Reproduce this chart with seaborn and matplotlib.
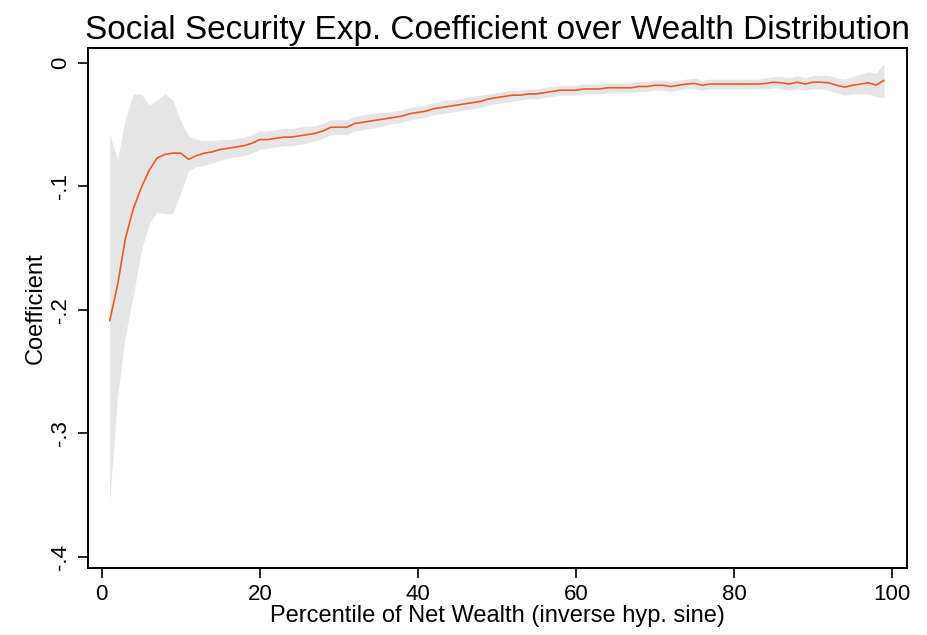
import matplotlib
matplotlib.use("Agg")
import matplotlib.pyplot as plt
import pandas as pd
import seaborn as sns

# percentile of net wealth
pct = list(range(1, 100))

coef = [
    -0.209, -0.180, -0.142, -0.118, -0.101, -0.087, -0.077, -0.074, -0.073, -0.073,
    -0.078, -0.075, -0.073, -0.072, -0.070, -0.069, -0.068, -0.067, -0.065, -0.062,
    -0.062, -0.061, -0.060, -0.060, -0.059, -0.058, -0.057, -0.055, -0.052, -0.052,
    -0.052, -0.049, -0.048, -0.047, -0.046, -0.045, -0.044, -0.043, -0.041, -0.040,
    -0.039, -0.037, -0.036, -0.035, -0.034, -0.033, -0.032, -0.031, -0.029, -0.028,
    -0.027, -0.026, -0.026, -0.025, -0.025, -0.024, -0.023, -0.022, -0.022, -0.022,
    -0.021, -0.021, -0.021, -0.020, -0.020, -0.020, -0.020, -0.019, -0.019, -0.018,
    -0.018, -0.019, -0.018, -0.017, -0.0165, -0.018, -0.017, -0.017, -0.017, -0.017,
    -0.017, -0.017, -0.017, -0.0165, -0.0155, -0.016, -0.017, -0.0155, -0.017, -0.0155,
    -0.0155, -0.016, -0.018, -0.0195, -0.018, -0.017, -0.016, -0.0178, -0.014,
]

ci_low = [
    -0.355, -0.270, -0.220, -0.188, -0.152, -0.130, -0.121, -0.122, -0.122, -0.105,
    -0.087, -0.084, -0.083, -0.081, -0.079, -0.077, -0.076, -0.075, -0.073, -0.070,
    -0.069, -0.068, -0.067, -0.067, -0.066, -0.065, -0.063, -0.061, -0.058, -0.058,
    -0.058, -0.055, -0.054, -0.053, -0.052, -0.050, -0.049, -0.048, -0.046, -0.045,
    -0.044, -0.042, -0.041, -0.040, -0.039, -0.038, -0.037, -0.036, -0.034, -0.033,
    -0.032, -0.031, -0.030, -0.029, -0.029, -0.028, -0.027, -0.026, -0.026, -0.026,
    -0.025, -0.025, -0.025, -0.024, -0.024, -0.024, -0.024, -0.023, -0.023, -0.022,
    -0.022, -0.023, -0.022, -0.021, -0.021, -0.022, -0.021, -0.021, -0.021, -0.021,
    -0.021, -0.021, -0.021, -0.021, -0.020, -0.021, -0.022, -0.021, -0.022, -0.021,
    -0.021, -0.022, -0.024, -0.026, -0.025, -0.025, -0.025, -0.027, -0.028,
]

ci_high = [
    -0.058, -0.078, -0.045, -0.025, -0.025, -0.034, -0.030, -0.025, -0.030, -0.047,
    -0.059, -0.062, -0.063, -0.063, -0.062, -0.062, -0.061, -0.060, -0.058, -0.055,
    -0.055, -0.054, -0.053, -0.053, -0.052, -0.051, -0.051, -0.049, -0.046, -0.046,
    -0.046, -0.043, -0.042, -0.041, -0.040, -0.040, -0.039, -0.038, -0.036, -0.035,
    -0.034, -0.032, -0.031, -0.030, -0.029, -0.028, -0.027, -0.026, -0.025, -0.024,
    -0.023, -0.022, -0.022, -0.021, -0.021, -0.020, -0.019, -0.018, -0.018, -0.018,
    -0.017, -0.017, -0.017, -0.016, -0.016, -0.016, -0.016, -0.015, -0.015, -0.014,
    -0.014, -0.015, -0.014, -0.013, -0.012, -0.014, -0.013, -0.013, -0.013, -0.013,
    -0.013, -0.013, -0.013, -0.012, -0.011, -0.011, -0.012, -0.010, -0.012, -0.010,
    -0.010, -0.010, -0.012, -0.013, -0.011, -0.009, -0.007, -0.008, 0.000,
]

x_ticks = [0, 20, 40, 60, 80, 100]
y_ticks = [0, -0.1, -0.2, -0.3, -0.4]
y_tick_labels = ["0", "-.1", "-.2", "-.3", "-.4"]

df = pd.DataFrame({"pct": pct, "coef": coef, "lo": ci_low, "hi": ci_high})

sns.set_style("ticks")
plt.rcParams["font.family"] = ["Liberation Sans", "DejaVu Sans"]
plt.rcParams["text.color"] = "black"
plt.rcParams["axes.labelcolor"] = "black"

fig = plt.figure(figsize=(9.27, 6.35), dpi=100)
ax = fig.add_axes([0.0944, 0.106, 0.884, 0.818])

ax.fill_between(df["pct"], df["lo"], df["hi"], color="#e5e5e5", linewidth=0)
sns.lineplot(data=df, x="pct", y="coef", color="#ee5a24", linewidth=1.2, ax=ax)

ax.set_xlim(-1.8, 101.9)
ax.set_ylim(-0.409, 0.012)
ax.set_xticks(x_ticks)
ax.set_yticks(y_ticks)
ax.set_yticklabels(y_tick_labels, rotation=90, va="center")
ax.tick_params(axis="both", direction="out", length=7, width=1.2, colors="black",
               labelsize=16, pad=5)

for side in ["top", "right", "bottom", "left"]:
    ax.spines[side].set_visible(True)
    ax.spines[side].set_linewidth(1.4)
    ax.spines[side].set_color("black")

ax.set_xlabel("Percentile of Net Wealth (inverse hyp. sine)", fontsize=17, labelpad=0)
ax.set_ylabel("Coefficient", fontsize=17, labelpad=2)
ax.set_title("Social Security Exp. Coefficient over Wealth Distribution",
             fontsize=24, pad=7)

fig.savefig("out.png", dpi=100)
plt.close(fig)
